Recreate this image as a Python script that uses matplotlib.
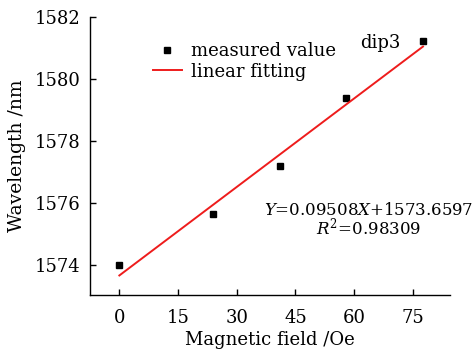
import matplotlib
matplotlib.use("Agg")
import matplotlib.pyplot as plt
import numpy as np

# Measured dip3 wavelength vs magnetic field
field_oe = [0, 24, 41, 58, 77.6]
wavelength_nm = [1574.0, 1575.63, 1577.2, 1579.39, 1581.22]

slope = 0.09508
intercept = 1573.6597
r_squared = 0.98309

xticks = [0, 15, 30, 45, 60, 75]
yticks = [1574, 1576, 1578, 1580, 1582]

plt.rcParams['font.family'] = ['DejaVu Serif']
plt.rcParams['mathtext.fontset'] = 'dejavuserif'

fig = plt.figure(figsize=(4.75, 3.55), dpi=100)
ax = fig.add_axes([90/475, 1 - 295/355, 360/475, (295 - 16.7)/355])

ax.plot(field_oe, wavelength_nm, 's', color='black', markersize=4,
        linestyle='none', label='measured value')
fit_x = np.array([field_oe[0], field_oe[-1]])
ax.plot(fit_x, slope * fit_x + intercept, color='#ee1c1c', lw=1.4,
        label='linear fitting')

ax.set_xlim(-7.5, 84.5)
ax.set_ylim(1573.03, 1582)
ax.set_xticks(xticks)
ax.set_yticks(yticks)
ax.spines['top'].set_visible(False)
ax.spines['right'].set_visible(False)
for s in ('left', 'bottom'):
    ax.spines[s].set_linewidth(1.0)
ax.tick_params(direction='in', length=4, width=1.0, labelsize=13)
ax.tick_params(axis='x', pad=10)
ax.tick_params(axis='y', pad=7)

ax.set_xlabel('Magnetic field /Oe', fontsize=13, labelpad=3)
ax.set_ylabel('Wavelength /nm', fontsize=13.5, labelpad=6)

leg = ax.legend(loc='upper left', bbox_to_anchor=(0.155, 0.935), frameon=False,
                fontsize=13, handlelength=1.6, handletextpad=0.5,
                labelspacing=0.15, borderaxespad=0)

ax.text(0.807, 0.905, 'dip3', transform=ax.transAxes, fontsize=13,
        ha='center', va='center')

fit_label = (r'$Y$=' + f'{slope:.5f}' + r'$X$+' + f'{intercept:.4f}' + '\n'
             + r'$R^2$=' + f'{r_squared:.5f}')
ax.text(0.775, 0.268, fit_label, transform=ax.transAxes, fontsize=12,
        ha='center', va='center', multialignment='center', linespacing=0.85)

fig.savefig('out.png', dpi=100)
